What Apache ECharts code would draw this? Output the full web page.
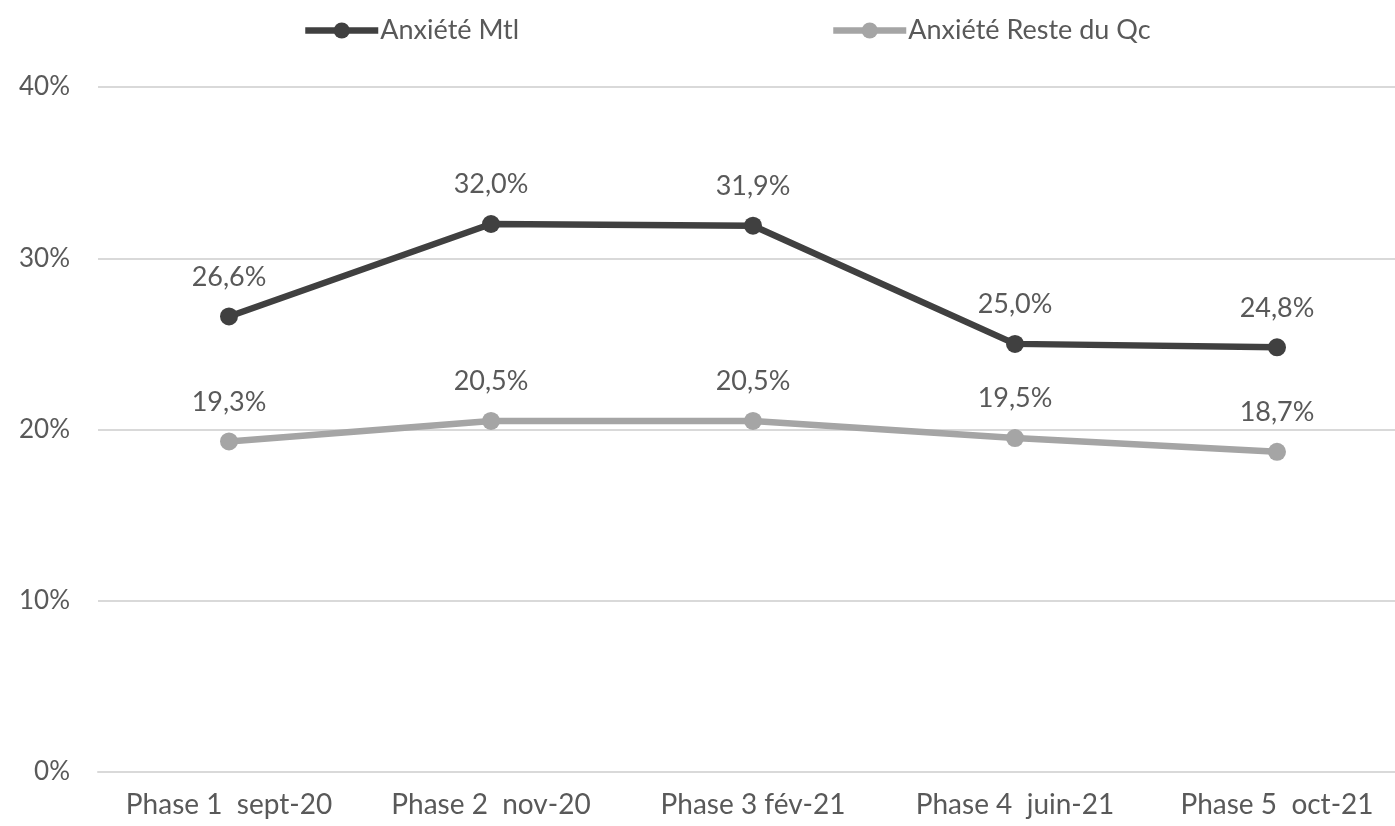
<!DOCTYPE html>
<html><head><meta charset="utf-8">
<script src="https://cdn.jsdelivr.net/npm/echarts@6/dist/echarts.min.js"></script>
<style>html,body{margin:0;padding:0;background:#fff}#c{width:1395px;height:826px}</style>
</head><body><div id="c"></div>
<script>
const categories = ['Phase 1  sept-20', 'Phase 2  nov-20', 'Phase 3 fév-21', 'Phase 4  juin-21', 'Phase 5  oct-21'];
const mtl = [26.6, 32.0, 31.9, 25.0, 24.8];
const resteQc = [19.3, 20.5, 20.5, 19.5, 18.7];
const seriesNames = ['Anxiété Mtl', 'Anxiété Reste du Qc'];
const yTicks = [0, 10, 20, 30, 40];

const FONT = 'Lato';
const TXT = '#595959';
const fmt = v => v.toFixed(1).replace('.', ',') + '%';

const chart = echarts.init(document.getElementById('c'), null, {renderer: 'canvas'});
function mkSeries(name, data, color) {
  return {
    name, type: 'line', data,
    symbol: 'circle', symbolSize: 18,
    lineStyle: {color, width: 6.5},
    itemStyle: {color},
    label: {show: true, position: 'top', distance: 17, color: TXT, fontFamily: FONT, fontSize: 27,
      formatter: p => fmt(p.value)},
    emphasis: {disabled: true},
    animation: false
  };
}
const legendCommon = {top: 17, padding: 0, itemWidth: 73, itemHeight: 20, itemGap: 0,
  lineStyle: {width: 6.5},
  textStyle: {color: TXT, fontFamily: FONT, fontSize: 27, padding: [0,0,0,-3]}};
chart.setOption({
  animation: false,
  legend: [
    Object.assign({data: [seriesNames[0]], left: 302}, legendCommon),
    Object.assign({data: [seriesNames[1]], left: 830}, legendCommon)
  ],
  grid: {left: 98, top: 87, right: -13, bottom: 54, containLabel: false, outerBoundsMode: 'none'},
  xAxis: {
    type: 'category', data: categories, boundaryGap: true,
    axisLine: {lineStyle: {color: '#d9d9d9', width: 2}},
    axisTick: {show: false},
    axisLabel: {color: TXT, fontFamily: FONT, fontSize: 28, margin: 19, interval: 0, hideOverlap: false}
  },
  yAxis: {
    type: 'value', min: yTicks[0], max: yTicks[yTicks.length - 1], interval: 10,
    axisLine: {show: false}, axisTick: {show: false},
    splitLine: {lineStyle: {color: '#d9d9d9', width: 2}},
    axisLabel: {color: TXT, fontFamily: FONT, fontSize: 26, margin: 28, formatter: v => v + '%'}
  },
  series: [
    mkSeries(seriesNames[0], mtl, '#404040'),
    mkSeries(seriesNames[1], resteQc, '#a5a5a5')
  ]
});
</script></body></html>
